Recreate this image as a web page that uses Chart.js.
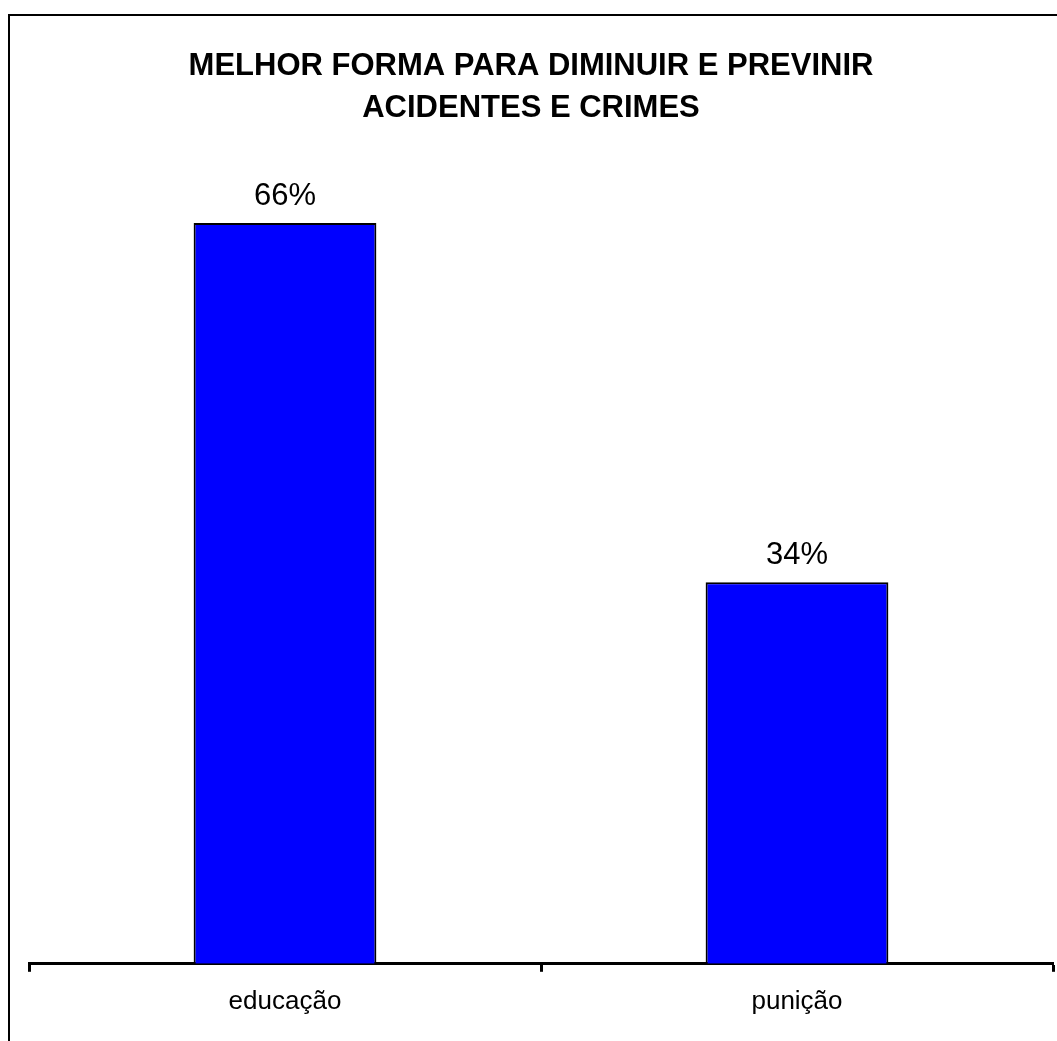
<!DOCTYPE html>
<html>
<head>
<meta charset="utf-8">
<title>Melhor forma para diminuir e previnir acidentes e crimes</title>
<script src="https://cdn.jsdelivr.net/npm/chart.js@4.4.0/dist/chart.umd.min.js"></script>
<style>
    html, body { margin: 0; padding: 0; background: #fff; }
    #wrap { width: 1057px; height: 1041px; }
</style>
</head>
<body>
<div id="wrap"><canvas id="chart" width="1057" height="1041"></canvas></div>
<script>
// dados
const categories = ['educação', 'punição'];
const values = [66, 34];
const titleLines = ['MELHOR FORMA PARA DIMINUIR E PREVINIR', 'ACIDENTES E CRIMES'];

const FONT = '"Liberation Sans", Arial, sans-serif';

// moldura (só esquerda e topo aparecem na imagem) + título
const framePlugin = {
    id: 'frame',
    beforeDraw(chart) {
        const ctx = chart.ctx;
        ctx.save();
        ctx.fillStyle = '#fff';
        ctx.fillRect(0, 0, chart.width, chart.height);
        ctx.strokeStyle = '#000';
        ctx.lineWidth = 2;
        ctx.beginPath();
        ctx.moveTo(9, chart.height + 5);
        ctx.lineTo(9, 15);
        ctx.lineTo(chart.width + 5, 15);
        ctx.stroke();

        // título centrado um pouco à esquerda do centro da área
        ctx.fillStyle = '#000';
        ctx.font = 'bold 31px ' + FONT;
        ctx.textAlign = 'center';
        ctx.textBaseline = 'alphabetic';
        titleLines.forEach((line, i) => {
            ctx.fillText(line, 531, 75 + i * 42);
        });
        ctx.restore();
    }
};

// rótulos de valor acima das barras
const valueLabels = {
    id: 'valueLabels',
    afterDatasetsDraw(chart) {
        const ctx = chart.ctx;
        const meta = chart.getDatasetMeta(0);
        ctx.save();
        ctx.fillStyle = '#000';
        ctx.font = '31px ' + FONT;
        ctx.textAlign = 'center';
        ctx.textBaseline = 'alphabetic';
        meta.data.forEach((bar, i) => {
            ctx.fillText(values[i] + '%', bar.x, bar.y - 18);
        });
        ctx.restore();
    }
};

new Chart(document.getElementById('chart').getContext('2d'), {
    type: 'bar',
    data: {
        labels: categories,
        datasets: [{
            data: values,
            backgroundColor: '#0000ff',
            borderColor: '#000',
            borderWidth: 2,
            categoryPercentage: 1,
            barPercentage: 0.357
        }]
    },
    options: {
        responsive: false,
        animation: false,
        layout: { padding: { left: 29, right: 4, top: 178, bottom: 10 } },
        plugins: {
            legend: { display: false },
            tooltip: { enabled: false },
            title: { display: false }
        },
        scales: {
            x: {
                offset: true,
                grid: {
                    display: true,
                    drawOnChartArea: false,
                    offset: true,
                    tickLength: 8,
                    tickWidth: 3,
                    color: '#000'
                },
                border: { display: true, color: '#000', width: 3 },
                ticks: {
                    color: '#000',
                    padding: 14,
                    font: { family: FONT, size: 26 }
                }
            },
            y: {
                display: false,
                min: 0,
                max: 70
            }
        }
    },
    plugins: [framePlugin, valueLabels]
});
</script>
</body>
</html>
